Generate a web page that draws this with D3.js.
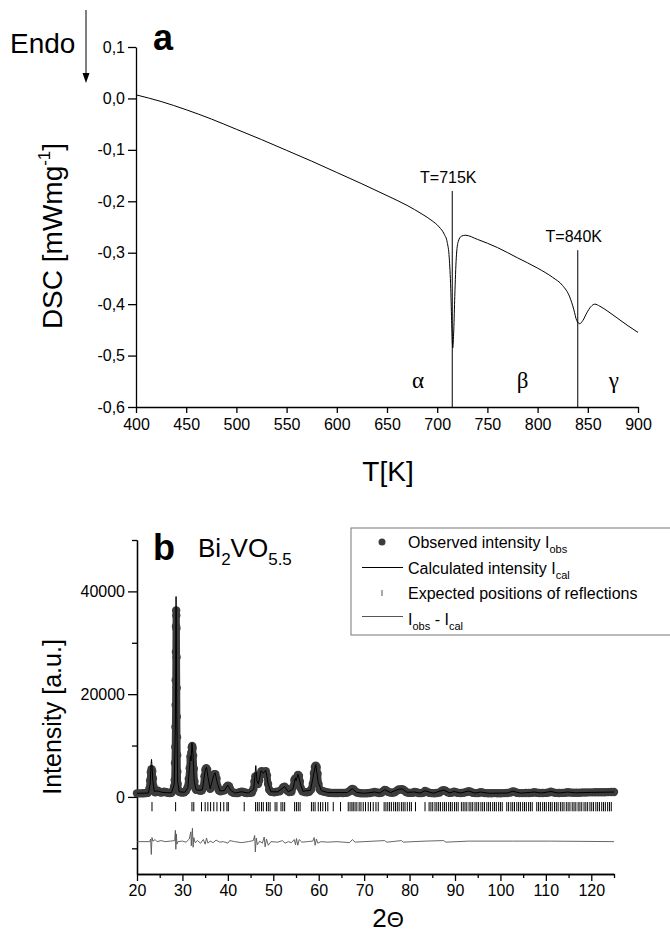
<!DOCTYPE html>
<html lang="en">
<head>
    <meta charset="UTF-8">
    <title>DSC and XRD of Bi2VO5.5</title>
    <script src="https://d3js.org/d3.v7.min.js"></script>
    <style>
        body { margin: 0; background: #fff; }
        text { font-family: "Liberation Sans", Arial, sans-serif; fill: #000; }
        .axis path, .axis line { stroke: #000; stroke-width: 1.3px; }
        .axis text { font-size: 16px; font-family: "Liberation Sans", Arial, sans-serif; }
        .greek { font-family: "Liberation Serif", "DejaVu Serif", serif; font-size: 23px; }
    </style>
</head>
<body>
    <svg width="670" height="932"></svg>
    <script>
        const width = 670;
        const height = 932;

        // ---------- panel a : DSC ----------
        const dscCurve = [
            [400, 0.007], [425, -0.006], [450, -0.022], [475, -0.04], [500, -0.06], [525, -0.08],
            [550, -0.101], [575, -0.122], [600, -0.144], [625, -0.166], [650, -0.189], [670, -0.208],
            [685, -0.225], [695, -0.238], [702, -0.25], [707, -0.264], [710, -0.28], [712, -0.31],
            [713.5, -0.37], [714.5, -0.44], [715.5, -0.485], [716.5, -0.45], [717.5, -0.385],
            [719, -0.31], [721, -0.278], [724, -0.268], [728, -0.266], [740, -0.274], [760, -0.29],
            [780, -0.31], [800, -0.33], [815, -0.348], [825, -0.364], [832, -0.386], [836, -0.41],
            [839, -0.432], [842, -0.438], [845, -0.432], [849, -0.417], [853, -0.405], [857, -0.4],
            [862, -0.404], [870, -0.414], [880, -0.428], [890, -0.442], [900, -0.455]
        ];
        const transitions = [
            { T: 715, top: -0.18, label: "T=715K", labelY: -0.165 },
            { T: 840, top: -0.295, label: "T=840K", labelY: -0.28 }
        ];
        const phases = [
            { T: 681, name: "α" },
            { T: 785, name: "β" },
            { T: 876, name: "γ" }
        ];
        const tempTicks = [400, 450, 500, 550, 600, 650, 700, 750, 800, 850, 900];
        const dscTicks = [0.1, 0, -0.1, -0.2, -0.3, -0.4, -0.5, -0.6];

        // ---------- panel b : XRD ----------
        const observed = [
            [20.0, 700], [20.5, 690], [21.0, 700], [21.5, 720], [22.0, 740], [22.4, 800], [22.7, 1500],
            [22.9, 3200], [23.05, 4800], [23.2, 5400], [23.35, 5000], [23.5, 3600], [23.65, 2000],
            [23.8, 1100], [24.0, 900], [24.3, 1000], [24.6, 1200], [24.9, 1000], [25.2, 850], [25.6, 900],
            [26.0, 1000], [26.4, 900], [26.8, 800], [27.2, 750], [27.6, 800], [27.9, 1200], [28.15, 2000],
            [28.3, 3300], [28.36, 6600], [28.42, 9700], [28.46, 13600], [28.5, 17900], [28.53, 22700],
            [28.56, 28200], [28.59, 33200], [28.62, 36300], [28.65, 35300], [28.68, 32800], [28.71, 27200],
            [28.74, 21200], [28.77, 15600], [28.8, 11600], [28.84, 8100], [28.88, 4900], [28.95, 2500],
            [29.1, 1300], [29.3, 1000], [29.6, 900], [30.0, 850], [30.4, 900], [30.8, 1200], [31.1, 1800],
            [31.4, 3500], [31.6, 5600], [31.75, 7800], [31.85, 7200], [31.95, 8600], [32.05, 9600],
            [32.15, 9900], [32.25, 9500], [32.35, 8000], [32.5, 5500], [32.65, 3000], [32.8, 1800],
            [33.0, 1400], [33.3, 1600], [33.6, 1300], [34.0, 1200], [34.3, 1300], [34.6, 2000],
            [34.85, 4000], [35.05, 5300], [35.25, 5600], [35.45, 5300], [35.65, 3800], [35.85, 2000],
            [36.1, 1600], [36.3, 1800], [36.5, 2500], [36.75, 3800], [37.0, 4400], [37.25, 4400],
            [37.5, 3600], [37.75, 2000], [38.0, 1300], [38.4, 1100], [38.8, 1200], [39.2, 1300],
            [39.5, 1500], [39.75, 2000], [40.0, 2200], [40.25, 2100], [40.5, 1500], [40.8, 1000],
            [41.2, 800], [41.7, 750], [42.2, 760], [42.6, 900], [43.0, 1000], [43.4, 950], [43.8, 800],
            [44.2, 750], [44.8, 780], [45.3, 850], [45.6, 1500], [45.85, 3000], [46.05, 4000],
            [46.25, 3900], [46.45, 3000], [46.65, 2500], [46.9, 3200], [47.15, 4500], [47.4, 5000],
            [47.65, 4900], [47.9, 4500], [48.1, 4800], [48.35, 5000], [48.6, 4200], [48.85, 2500],
            [49.1, 1400], [49.5, 1000], [50.2, 900], [50.8, 1000], [51.4, 1100], [51.9, 1500],
            [52.2, 1900], [52.5, 2000], [52.8, 1700], [53.1, 1200], [53.5, 950], [54.0, 1000],
            [54.4, 2000], [54.65, 3300], [54.85, 3600], [55.05, 3000], [55.25, 3800], [55.45, 4300],
            [55.65, 4100], [55.85, 3000], [56.05, 1700], [56.4, 1100], [56.9, 950], [57.4, 900],
            [57.9, 1000], [58.3, 1400], [58.7, 2500], [58.95, 4600], [59.15, 5800], [59.35, 6100],
            [59.55, 5800], [59.75, 4500], [59.95, 2500], [60.2, 1500], [60.5, 1200], [60.9, 1100],
            [61.3, 1000], [61.8, 900], [62.3, 800], [62.8, 780], [63.3, 760], [63.8, 760], [64.3, 760],
            [64.8, 780], [65.3, 760], [65.8, 780], [66.3, 850], [66.8, 1100], [67.1, 1400], [67.4, 1550],
            [67.7, 1450], [68.0, 1100], [68.4, 850], [68.9, 760], [69.4, 720], [70.0, 700], [70.6, 720],
            [71.2, 750], [71.8, 850], [72.3, 950], [72.8, 850], [73.3, 760], [73.8, 800], [74.2, 1100],
            [74.5, 1350], [74.8, 1300], [75.2, 1000], [75.7, 850], [76.2, 800], [76.7, 900], [77.2, 1200],
            [77.6, 1450], [78.0, 1450], [78.4, 1500], [78.8, 1300], [79.2, 950], [79.7, 800], [80.2, 780],
            [80.7, 800], [81.1, 950], [81.5, 900], [82.0, 760], [82.5, 740], [83.0, 800], [83.4, 1150],
            [83.8, 1000], [84.3, 800], [84.8, 740], [85.4, 720], [86.0, 760], [86.6, 850], [87.1, 1200],
            [87.5, 1300], [87.9, 1200], [88.4, 900], [88.9, 780], [89.4, 850], [89.8, 1000], [90.2, 900],
            [90.7, 780], [91.3, 760], [91.9, 800], [92.5, 950], [93.0, 1100], [93.4, 1000], [93.9, 800],
            [94.5, 740], [95.1, 760], [95.6, 900], [96.0, 850], [96.6, 740], [97.3, 720], [98.0, 720],
            [98.7, 740], [99.4, 720], [100.1, 720], [100.8, 740], [101.5, 760], [102.2, 850],
            [102.7, 1050], [103.1, 1000], [103.6, 800], [104.2, 740], [104.9, 740], [105.6, 760],
            [106.3, 760], [107.0, 800], [107.5, 900], [108.0, 800], [108.6, 760], [109.3, 760],
            [110.0, 780], [110.6, 850], [111.1, 1000], [111.6, 880], [112.2, 780], [112.9, 760],
            [113.6, 780], [114.3, 800], [114.8, 900], [115.3, 850], [116.0, 800], [116.7, 800],
            [117.4, 820], [118.1, 850], [118.8, 850], [119.5, 880], [120.2, 880], [120.9, 900],
            [121.6, 900], [122.3, 920], [123.0, 920], [123.7, 940], [124.4, 950], [125.0, 950]
        ];
        const calculated = [
            [20, 700], [22.5, 760], [22.9, 2500], [23.1, 6500], [23.2, 7300], [23.3, 6000], [23.5, 3000],
            [23.8, 1100], [24.6, 1150], [25.5, 900], [26.5, 850], [27.6, 800], [28.2, 2500], [28.45, 14000],
            [28.6, 39000], [28.75, 16000], [28.95, 3000], [29.3, 1000], [30.5, 900], [31.2, 1800],
            [31.75, 8000], [31.9, 7000], [32.1, 10500], [32.3, 8500], [32.6, 3000], [33, 1400], [33.6, 1300],
            [34.4, 1400], [35.0, 5200], [35.3, 5800], [35.6, 4000], [36.1, 1600], [36.9, 4200], [37.2, 4700],
            [37.6, 3000], [38.2, 1200], [39.2, 1200], [40.0, 2300], [40.6, 1300], [41.5, 760], [43.0, 1000],
            [44.5, 760], [45.7, 1500], [46.15, 6100], [46.4, 3200], [46.7, 2500], [47.3, 5100], [47.8, 4600],
            [48.35, 5200], [48.9, 2400], [49.5, 1000], [51.0, 1000], [52.5, 2000], [53.3, 1000], [54.3, 1500],
            [54.85, 3700], [55.0, 3100], [55.45, 4400], [55.9, 2800], [56.5, 1100], [58.2, 1300], [58.9, 4500],
            [59.35, 6300], [59.9, 2800], [60.6, 1200], [62, 850], [66.3, 850], [67.4, 1600], [68.3, 900],
            [70, 700], [72.3, 950], [73.4, 760], [74.5, 1400], [75.8, 850], [77.6, 1500], [78.4, 1550],
            [79.4, 900], [81.1, 950], [82.3, 750], [83.4, 1200], [85.2, 720], [87.5, 1350], [88.8, 780],
            [89.8, 1050], [91.2, 760], [93.0, 1150], [94.4, 740], [95.6, 950], [97.5, 720], [101.5, 760],
            [102.7, 1100], [104.5, 740], [107.5, 950], [109, 760], [111.1, 1050], [112.8, 760],
            [114.8, 950], [116.5, 800], [120, 880], [125, 950]
        ];
        const reflections = [
            23.3, 28.5, 32.1, 32.5, 34.2, 35.0, 35.6, 36.2, 36.9, 37.6, 38.4, 39.1, 39.8, 40.1, 43.6,
            46.1, 46.5, 46.9, 47.4, 47.8, 48.5, 48.9, 49.3, 50.4, 50.8, 51.7, 52.1, 52.5, 54.7, 55.1,
            55.5, 55.9, 58.4, 58.8, 59.2, 59.9, 60.4, 60.9, 61.5, 62.0, 63.2, 64.8, 66.5, 66.9, 67.3,
            67.6, 68.0, 68.4, 68.9, 69.3, 69.8, 70.3, 70.9, 71.4, 72.0, 72.6, 73.1, 74.4, 74.8, 75.2,
            75.6, 76.0, 76.5, 76.9, 77.3, 77.7, 78.2, 78.6, 79.0, 79.5, 80.0, 80.4, 81.3, 83.4, 84.3,
            84.7, 85.1, 85.6, 86.0, 86.4, 86.8, 87.3, 87.7, 88.1, 88.6, 89.0, 89.4, 89.9, 90.3, 90.7,
            91.4, 91.8, 92.2, 92.6, 93.1, 93.5, 93.9, 94.4, 94.8, 95.2, 95.7, 96.1, 96.5, 97.0, 97.4,
            97.8, 98.3, 98.7, 99.1, 99.6, 100.0, 100.4, 101.4, 101.8, 102.3, 102.7, 103.1, 103.6, 104.0,
            104.4, 104.9, 105.3, 105.7, 106.2, 106.6, 107.0, 108.0, 108.4, 108.8, 109.3, 109.7, 110.1,
            110.6, 111.0, 111.4, 111.9, 112.3, 112.7, 113.2, 113.6, 114.0, 114.5, 114.9, 115.3, 115.8,
            116.2, 116.6, 117.1, 117.5, 117.9, 118.4, 118.8, 119.2, 119.7, 120.1, 120.5, 121.0, 121.4,
            121.8, 122.3, 122.7, 123.1, 123.6, 124.0, 124.4
        ];
        const difference = [
            [20, -8700], [22.8, -8700], [23.0, -8200], [23.15, -11200], [23.3, -7900], [23.5, -8600],
            [24.0, -8300], [24.4, -8700], [25.3, -8500], [26.2, -8700], [27.3, -8600], [28.3, -8500],
            [28.45, -6500], [28.55, -10200], [28.65, -7200], [28.8, -9200], [29.0, -8700], [30.0, -8600],
            [30.8, -8800], [31.5, -8200], [31.85, -6800], [31.95, -9500], [32.2, -6100], [32.35, -9800],
            [32.5, -7900], [32.8, -8900], [33.3, -8500], [34.0, -9000], [34.6, -8300], [35.0, -9200],
            [35.3, -8000], [35.6, -9000], [36.1, -8600], [36.8, -8900], [37.4, -8400], [38.2, -8800],
            [39.0, -8700], [40.0, -9000], [40.4, -8500], [41.5, -8700], [43.0, -8900], [44.5, -8700],
            [45.6, -8500], [45.9, -7500], [46.05, -10700], [46.25, -8000], [46.5, -9300], [47.0, -8600],
            [47.6, -9000], [48.0, -7800], [48.2, -9700], [48.5, -8200], [48.9, -9400], [49.5, -8700],
            [51.0, -8800], [52.0, -8500], [52.6, -9000], [53.3, -8700], [54.0, -8900], [54.6, -8300],
            [54.9, -9300], [55.1, -8100], [55.4, -9400], [55.7, -8300], [56.3, -8800], [57.5, -8700],
            [58.7, -8600], [59.0, -7900], [59.2, -9400], [59.5, -8200], [59.8, -9000], [60.5, -8700],
            [62, -8800], [64, -8700], [66.8, -8900], [67.4, -8300], [68.0, -8800], [70, -8700],
            [74.5, -8500], [75.0, -8800], [78.2, -8500], [78.6, -8800], [83.4, -8600], [87.5, -8500],
            [88, -8800], [93, -8600], [102.7, -8600], [111, -8600], [125, -8700]
        ];
        const angleTicks = [20, 30, 40, 50, 60, 70, 80, 90, 100, 110, 120];
        const angleMinor = [25, 35, 45, 55, 65, 75, 85, 95, 105, 115, 125];
        const intensityTicks = [0, 20000, 40000];
        const intensityMinor = [-10000, 10000, 30000, 50000];

        const svg = d3.select("svg")
            .attr("width", width)
            .attr("height", height);

        svg.append("rect").attr("width", width).attr("height", height).attr("fill", "#fff");

        // ===== panel a =====
        const xA = d3.scaleLinear().domain([400, 900]).range([136, 638]);
        const yA = d3.scaleLinear().domain([-0.6, 0.1]).range([407, 47]);
        const comma = d => d3.format(".1f")(d).replace(".", ",").replace("−", "-");

        svg.append("g")
            .attr("class", "axis")
            .attr("transform", "translate(136,0)")
            .call(d3.axisLeft(yA).tickValues(dscTicks).tickFormat(comma).tickSize(8).tickSizeOuter(0).tickPadding(3));

        svg.append("g")
            .attr("class", "axis")
            .attr("transform", "translate(0,407)")
            .call(d3.axisBottom(xA).tickValues(tempTicks).tickFormat(d3.format("d")).tickSize(6).tickSizeOuter(0).tickPadding(6));

        svg.append("path")
            .datum(dscCurve)
            .attr("fill", "none")
            .attr("stroke", "#000")
            .attr("stroke-width", 1)
            .attr("d", d3.line().x(d => xA(d[0])).y(d => yA(d[1])).curve(d3.curveMonotoneX));

        // transition markers
        transitions.forEach(t => {
            svg.append("line")
                .attr("x1", xA(t.T)).attr("x2", xA(t.T))
                .attr("y1", yA(t.top)).attr("y2", yA(-0.6))
                .attr("stroke", "#000").attr("stroke-width", 1);
            svg.append("text")
                .attr("x", xA(t.T) - 4).attr("y", yA(t.labelY))
                .attr("text-anchor", "middle")
                .attr("font-size", 16)
                .text(t.label);
        });

        svg.selectAll(".greek")
            .data(phases)
            .join("text")
            .attr("class", "greek")
            .attr("x", d => xA(d.T))
            .attr("y", yA(-0.563))
            .attr("text-anchor", "middle")
            .text(d => d.name);

        svg.append("text").attr("x", 153).attr("y", 50)
            .attr("font-size", 36).attr("font-weight", "bold").text("a");

        // Endo arrow
        svg.append("text").attr("x", 10).attr("y", 53).attr("font-size", 28).text("Endo");
        svg.append("line").attr("x1", 86).attr("x2", 86).attr("y1", 10).attr("y2", 76)
            .attr("stroke", "#000").attr("stroke-width", 1);
        svg.append("path").attr("d", "M82.5,73 L89.5,73 L86,83 Z").attr("fill", "#000");

        const dscLabel = svg.append("text")
            .attr("transform", "translate(62,236) rotate(-90)")
            .attr("text-anchor", "middle")
            .attr("font-size", 28);
        dscLabel.append("tspan").text("DSC [mWmg");
        dscLabel.append("tspan").attr("font-size", 17).attr("dy", -12).text("-1");
        dscLabel.append("tspan").attr("dy", 12).text("]");

        svg.append("text").attr("x", 388).attr("y", 481)
            .attr("text-anchor", "middle").attr("font-size", 28).text("T[K]");

        // ===== panel b =====
        const xB = d3.scaleLinear().domain([20, 125]).range([137, 614]);
        const yB = d3.scaleLinear().domain([-15000, 50000]).range([874, 540]);

        svg.append("g")
            .attr("class", "axis")
            .attr("transform", "translate(137,0)")
            .call(d3.axisLeft(yB).tickValues(intensityMinor).tickFormat("").tickSize(5).tickSizeOuter(0));
        svg.append("g")
            .attr("class", "axis")
            .attr("transform", "translate(137,0)")
            .call(d3.axisLeft(yB).tickValues(intensityTicks).tickFormat(d3.format("d")).tickSize(9).tickSizeOuter(0).tickPadding(3))
            .selectAll("text").attr("font-size", 15);

        svg.append("g")
            .attr("class", "axis")
            .attr("transform", "translate(0,874)")
            .call(d3.axisBottom(xB).tickValues(angleMinor).tickFormat("").tickSize(4).tickSizeOuter(0));
        svg.append("g")
            .attr("class", "axis")
            .attr("transform", "translate(0,874)")
            .call(d3.axisBottom(xB).tickValues(angleTicks).tickFormat(d3.format("d")).tickSize(7).tickSizeOuter(0).tickPadding(4));

        // reflection positions
        svg.append("g")
            .selectAll("line")
            .data(reflections)
            .join("line")
            .attr("x1", d => xB(d)).attr("x2", d => xB(d))
            .attr("y1", yB(-1000)).attr("y2", yB(-2800))
            .attr("stroke", "#000").attr("stroke-width", 1);

        // difference curve
        svg.append("path")
            .datum(difference)
            .attr("fill", "none")
            .attr("stroke", "#555")
            .attr("stroke-width", 0.9)
            .attr("d", d3.line().x(d => xB(d[0])).y(d => yB(d[1])));

        // observed: band + dots
        const obsColor = "#3c3c3c";
        svg.append("path")
            .datum(observed)
            .attr("fill", "none")
            .attr("stroke", obsColor)
            .attr("stroke-width", 7)
            .attr("stroke-linejoin", "round")
            .attr("d", d3.line().x(d => xB(d[0])).y(d => yB(d[1])));

        svg.append("g")
            .selectAll("circle")
            .data(observed)
            .join("circle")
            .attr("cx", d => xB(d[0]))
            .attr("cy", d => yB(d[1]))
            .attr("r", 4.2)
            .attr("fill", obsColor);

        // calculated
        svg.append("path")
            .datum(calculated)
            .attr("fill", "none")
            .attr("stroke", "#000")
            .attr("stroke-width", 1)
            .attr("d", d3.line().x(d => xB(d[0])).y(d => yB(d[1])));

        svg.append("text").attr("x", 153).attr("y", 560)
            .attr("font-size", 36).attr("font-weight", "bold").text("b");

        const formula = svg.append("text").attr("x", 198).attr("y", 557).attr("font-size", 26);
        formula.append("tspan").text("Bi");
        formula.append("tspan").attr("font-size", 17).attr("dy", 8).text("2");
        formula.append("tspan").attr("dy", -8).text("VO");
        formula.append("tspan").attr("font-size", 17).attr("dy", 8).text("5.5");

        // legend
        const legend = svg.append("g");
        legend.append("rect")
            .attr("x", 351).attr("y", 528).attr("width", 330).attr("height", 107)
            .attr("fill", "#fff").attr("stroke", "#777").attr("stroke-width", 1);

        const legendRows = [
            { main: "Observed intensity I", sub: "obs", kind: "dot" },
            { main: "Calculated intensity I", sub: "cal", kind: "line" },
            { main: "Expected positions of reflections", sub: null, kind: "tick" },
            { main: null, sub: null, kind: "diff" }
        ];
        legendRows.forEach((r, i) => {
            const cy = 542 + i * 25.5;
            if (r.kind === "dot") {
                legend.append("circle").attr("cx", 382).attr("cy", cy).attr("r", 3.5).attr("fill", obsColor);
            } else if (r.kind === "line") {
                legend.append("line").attr("x1", 362).attr("x2", 403).attr("y1", cy).attr("y2", cy)
                    .attr("stroke", "#000").attr("stroke-width", 1);
            } else if (r.kind === "tick") {
                legend.append("line").attr("x1", 382).attr("x2", 382).attr("y1", cy - 3).attr("y2", cy + 3)
                    .attr("stroke", "#555").attr("stroke-width", 1);
            } else {
                legend.append("line").attr("x1", 362).attr("x2", 403).attr("y1", cy - 2).attr("y2", cy - 2)
                    .attr("stroke", "#555").attr("stroke-width", 1);
            }
            const t = legend.append("text").attr("x", 408).attr("y", cy + 6).attr("font-size", 16);
            if (r.kind === "diff") {
                t.append("tspan").text("I");
                t.append("tspan").attr("font-size", 11).attr("dy", 5).text("obs");
                t.append("tspan").attr("dy", -5).text(" - I");
                t.append("tspan").attr("font-size", 11).attr("dy", 5).text("cal");
            } else {
                t.append("tspan").text(r.main);
                if (r.sub) t.append("tspan").attr("font-size", 11).attr("dy", 5).text(r.sub);
            }
        });

        svg.append("text")
            .attr("transform", "translate(61,717) rotate(-90)")
            .attr("text-anchor", "middle")
            .attr("font-size", 25)
            .text("Intensity [a.u.]");

        const thetaLabel = svg.append("text").attr("x", 388).attr("y", 927)
            .attr("text-anchor", "middle").attr("font-size", 26);
        thetaLabel.append("tspan").text("2");
        thetaLabel.append("tspan").attr("font-size", 22).text("Θ");
    </script>
</body>
</html>
